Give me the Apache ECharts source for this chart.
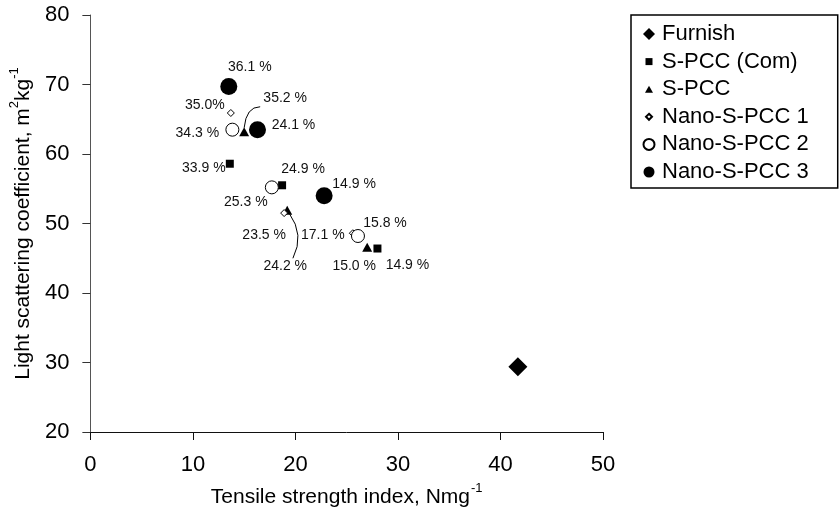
<!DOCTYPE html>
<html>
<head>
<meta charset="utf-8">
<script src="https://cdn.jsdelivr.net/npm/echarts@6/dist/echarts.min.js"></script>
<style>
html,body{margin:0;padding:0;background:#fff;}
#c{width:840px;height:519px;}
</style>
</head>
<body>
<div id="c"></div>
<script>
// ---- data ----
const seriesNames = ['Furnish','S-PCC (Com)','S-PCC','Nano-S-PCC 1','Nano-S-PCC 2','Nano-S-PCC 3'];
const furnishX = [41.7];
const furnishY = [29.4];
const spccComX = [13.6, 18.7, 28.0];
const spccComY = [58.6, 55.5, 46.4];
const spccComLabels = ['33.9 %', '24.9 %', '14.9 %'];
const spccX = [15.0, 19.2, 27.0];
const spccY = [63.2, 51.9, 46.6];
const spccLabels = ['35.2 %', '24.2 %', '15.0 %'];
const nano1X = [13.7, 18.9, 25.6];
const nano1Y = [65.9, 51.5, 48.6];
const nano1Labels = ['35.0%', '23.5 %', '17.1 %'];
const nano2X = [13.85, 17.7, 26.1];
const nano2Y = [63.5, 55.2, 48.2];
const nano2Labels = ['34.3 %', '25.3 %', '15.8 %'];
const nano3X = [13.5, 16.3, 22.8];
const nano3Y = [69.7, 63.5, 54.0];
const nano3Labels = ['36.1 %', '24.1 %', '14.9 %'];
const xTicks = {min: 0, max: 50, interval: 10};
const yTicks = {min: 20, max: 80, interval: 10};

// ---- layout (label offsets in px, relative to the point) ----
const spccComOffsets = [[-26, 4], [21, -16], [30, 17]];
const spccOffsets = [[41, -34], [-2, 56], [-13, 19]];
const nano1Offsets = [[-26, -8], [-20, 22], [-30, 2]];
const nano2Offsets = [[-35, 3], [-26, 15], [27, -13]];
const nano3Offsets = [[21, -19], [36, -5], [30, -12]];
// leader curves for S-PCC labels (index into spcc arrays, pixel offsets)
const leaderIdx = [0, 1];
const leaderShapes = [
  {s: [0, -4], c: [2, -25], e: [16, -25]},
  {s: [2, 3], c: [17.5, 24.5], e: [5.7, 48]}
];

const FONT = '"Liberation Sans", Arial, sans-serif';

function pts(xs, ys, labels, offsets) {
  return xs.map((x, i) => {
    const d = {value: [x, ys[i]]};
    if (labels) {
      d.label = {show: true, formatter: labels[i], position: 'inside', offset: offsets[i]};
    }
    return d;
  });
}
const labelBase = {fontFamily: FONT, fontSize: 14, color: '#111', align: 'center', verticalAlign: 'middle'};

function icon(body) { return 'path://M0 0 M16 16 ' + body; }
const circ = r => `M${8 - r} 8 A${r} ${r} 0 1 1 ${8 + r} 8 A${r} ${r} 0 1 1 ${8 - r} 8 Z`;

const chart = echarts.init(document.getElementById('c'), null, {renderer: 'canvas'});
chart.setOption({
  animation: false,
  backgroundColor: '#fff',
  grid: {left: 88, top: 15, right: 237, bottom: 87, containLabel: false},
  legend: {
    orient: 'vertical',
    left: 631, top: 15,
    padding: [8, 29, 5, 9],
    borderColor: '#000', borderWidth: 1.5,
    itemWidth: 16, itemHeight: 16,
    itemGap: 5.6,
    textStyle: {fontFamily: FONT, fontSize: 22, color: '#000', lineHeight: 22, padding: [0, 0, 0, 0]},
    data: [
      {name: seriesNames[0], icon: icon('M8 2 L14 8 L8 14 L2 8 Z')},
      {name: seriesNames[1], icon: icon('M4.5 4.5 L11.5 4.5 L11.5 11.5 L4.5 11.5 Z')},
      {name: seriesNames[2], icon: icon('M8 4.5 L12 11.5 L4 11.5 Z')},
      {name: seriesNames[3], icon: icon('M8 5 L11 8 L8 11 L5 8 Z')},
      {name: seriesNames[4], icon: icon(circ(5.5))},
      {name: seriesNames[5], icon: icon(circ(5.5))}
    ]
  },
  xAxis: {
    type: 'value', min: xTicks.min, max: xTicks.max, interval: xTicks.interval,
    name: '{n|Tensile strength index, Nmg}{sup|-1}',
    nameLocation: 'middle', nameGap: 50,
    nameTextStyle: {
      fontFamily: FONT, color: '#000',
      rich: {
        n: {fontFamily: FONT, fontSize: 21, color: '#000', lineHeight: 26, verticalAlign: 'bottom'},
        sup: {fontFamily: FONT, fontSize: 13, color: '#000', lineHeight: 26, verticalAlign: 'top', padding: [0, 0, 0, 1]}
      }
    },
    axisLine: {show: true, onZero: false, lineStyle: {color: '#111', width: 1}},
    axisTick: {show: true, inside: false, length: 8, lineStyle: {color: '#111'}},
    axisLabel: {fontFamily: FONT, fontSize: 22, color: '#000', margin: 22},
    splitLine: {show: false}
  },
  yAxis: {
    type: 'value', min: yTicks.min, max: yTicks.max, interval: yTicks.interval,
    name: '{n|Light scattering coefficient, m}{sup|2}{n|kg}{sup|-1}',
    nameLocation: 'middle', nameGap: 46, nameRotate: 90,
    nameTextStyle: {
      fontFamily: FONT, color: '#000',
      rich: {
        n: {fontFamily: FONT, fontSize: 21, color: '#000', lineHeight: 26, verticalAlign: 'bottom'},
        sup: {fontFamily: FONT, fontSize: 13, color: '#000', lineHeight: 26, verticalAlign: 'top'}
      }
    },
    axisLine: {show: true, onZero: false, lineStyle: {color: '#555', width: 1}},
    axisTick: {show: true, inside: false, length: 8, lineStyle: {color: '#333'}},
    axisLabel: {fontFamily: FONT, fontSize: 22, color: '#000', margin: 21},
    splitLine: {show: false}
  },
  series: [
    {
      name: seriesNames[0], type: 'scatter', symbol: 'diamond', symbolSize: 19,
      itemStyle: {color: '#000', opacity: 1},
      data: pts(furnishX, furnishY)
    },
    {
      name: seriesNames[1], type: 'scatter', symbol: 'rect', symbolSize: 8,
      itemStyle: {color: '#000', opacity: 1},
      label: labelBase,
      data: pts(spccComX, spccComY, spccComLabels, spccComOffsets)
    },
    {
      name: seriesNames[2], type: 'scatter', symbol: 'triangle', symbolSize: [10, 9],
      itemStyle: {color: '#000', opacity: 1},
      label: labelBase,
      data: pts(spccX, spccY, spccLabels, spccOffsets)
    },
    {
      name: seriesNames[3], type: 'scatter', symbol: 'diamond', symbolSize: 7,
      itemStyle: {color: '#fff', borderColor: '#000', borderWidth: 1, opacity: 1},
      label: labelBase,
      data: pts(nano1X, nano1Y, nano1Labels, nano1Offsets)
    },
    {
      name: seriesNames[4], type: 'scatter', symbol: 'circle', symbolSize: 13,
      itemStyle: {color: '#fff', borderColor: '#000', borderWidth: 1, opacity: 1},
      label: labelBase,
      data: pts(nano2X, nano2Y, nano2Labels, nano2Offsets)
    },
    {
      name: seriesNames[5], type: 'scatter', symbol: 'circle', symbolSize: 17,
      itemStyle: {color: '#000', opacity: 1},
      label: labelBase,
      data: pts(nano3X, nano3Y, nano3Labels, nano3Offsets)
    },
    {
      name: 'leaders', type: 'custom', silent: true,
      data: leaderIdx.map(i => [spccX[i], spccY[i]]),
      renderItem: function (params, api) {
        const p = api.coord([api.value(0), api.value(1)]);
        const s = leaderShapes[params.dataIndex];
        return {
          type: 'bezierCurve',
          shape: {
            x1: p[0] + s.s[0], y1: p[1] + s.s[1],
            x2: p[0] + s.e[0], y2: p[1] + s.e[1],
            cpx1: p[0] + s.c[0], cpy1: p[1] + s.c[1]
          },
          style: {stroke: '#000', fill: null, lineWidth: 1}
        };
      }
    }
  ]
});
</script>
</body>
</html>
